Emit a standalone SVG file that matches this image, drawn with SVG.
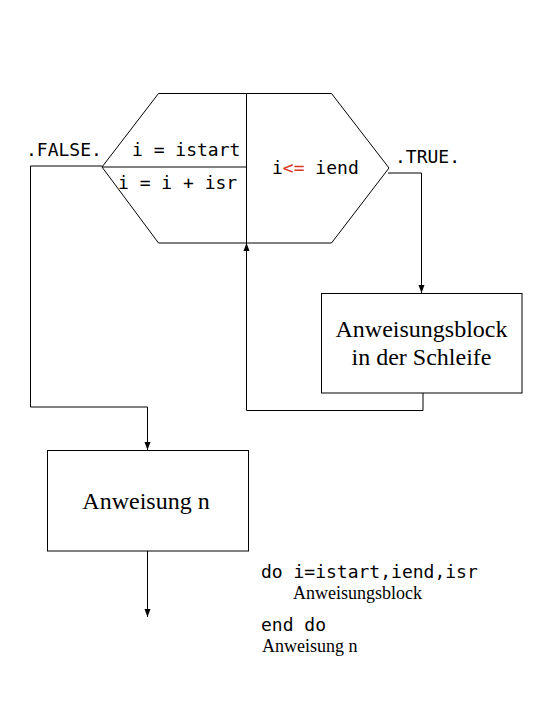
<svg xmlns="http://www.w3.org/2000/svg" width="540" height="720" viewBox="0 0 540 720">
<style>
.ln{fill:none;stroke:#000;stroke-width:1}
.box{fill:#fff;stroke:#000;stroke-width:1}
.mono{font-family:"DejaVu Sans Mono","Liberation Mono",monospace;font-size:18px;fill:#000}
.ser{font-family:"Liberation Serif","Times New Roman",serif;fill:#000}
.red{fill:#d9381e}
</style>
<defs>
<marker id="arr" viewBox="0 0 8 8" refX="8" refY="4" markerWidth="8" markerHeight="8" markerUnits="userSpaceOnUse" orient="auto">
<path d="M0,1 L8,4 L0,7 Z" fill="#000"/>
</marker>
</defs>
<rect width="540" height="720" fill="#fff"/>
<g id="connectors">
<polyline class="ln" points="102,166 30.5,166 30.5,407 147.5,407 147.5,450" marker-end="url(#arr)"/>
<polyline class="ln" points="388,173 421.5,173 421.5,293" marker-end="url(#arr)"/>
<polyline class="ln" points="423,393 423,410.5 246.5,410.5 246.5,243" marker-end="url(#arr)"/>
<line class="ln" x1="147.5" y1="551" x2="147.5" y2="617" marker-end="url(#arr)"/>
</g>
<g id="loop-hexagon">
<polygon class="box" points="158.5,93.5 331.5,93.5 389,168 331.5,243 158.5,243 102,167"/>
<line class="ln" x1="246.5" y1="93.5" x2="246.5" y2="243"/>
<line class="ln" x1="102" y1="167" x2="246.5" y2="167"/>
<text class="mono" x="132" y="156">i = istart</text>
<text class="mono" x="118" y="188.5">i = i + isr</text>
<text class="mono" x="272" y="173.5">i<tspan class="red">&lt;=</tspan> iend</text>
</g>
<g id="label-false"><text class="mono" x="26" y="156">.FALSE.</text></g>
<g id="label-true"><text class="mono" x="395" y="163">.TRUE.</text></g>
<g id="block">
<rect class="box" x="321.5" y="293.5" width="200.5" height="99.5"/>
<text class="ser" font-size="24" x="421.5" y="337" text-anchor="middle">Anweisungsblock</text>
<text class="ser" font-size="24" x="421.5" y="365" text-anchor="middle">in der Schleife</text>
</g>
<g id="anweisung-n">
<rect class="box" x="47.5" y="450.5" width="201" height="100.5"/>
<text class="ser" font-size="24" x="146" y="509" text-anchor="middle">Anweisung n</text>
</g>
<g id="code">
<text class="mono" x="261" y="577.5">do i=istart,iend,isr</text>
<text class="ser" font-size="18" x="293" y="598.5">Anweisungsblock</text>
<text class="mono" x="261" y="631">end do</text>
<text class="ser" font-size="18" x="262" y="652">Anweisung n</text>
</g>
</svg>
